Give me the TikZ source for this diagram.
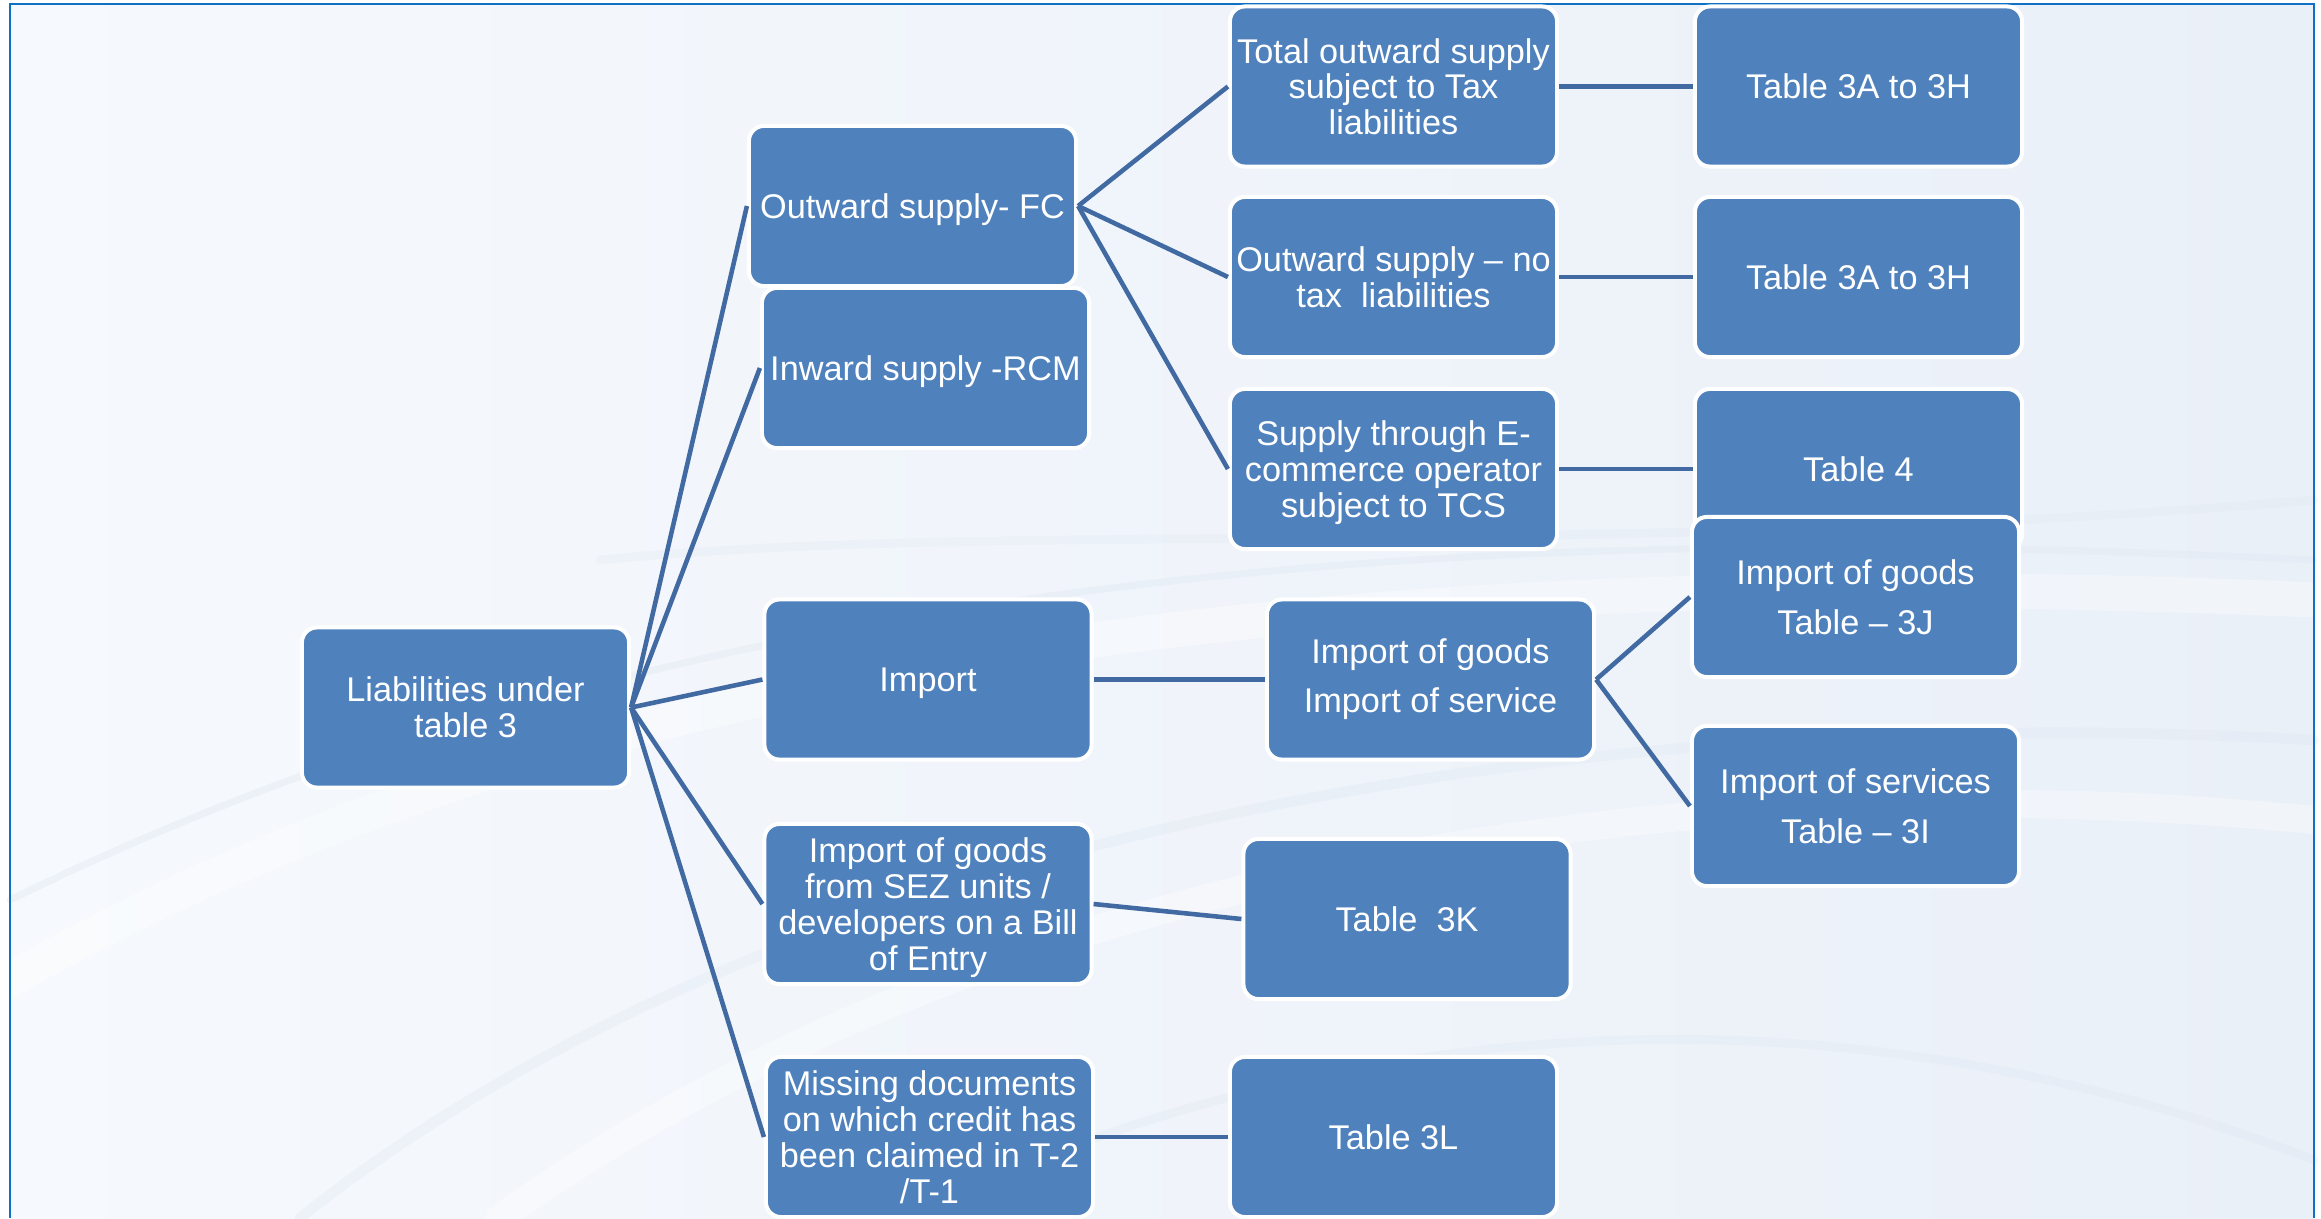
\documentclass[tikz,border=0pt]{standalone}
\usepackage{fontspec}
\setmainfont{Liberation Sans}
\definecolor{boxblue}{RGB}{79,129,189}
\definecolor{linkblue}{RGB}{66,106,162}
\definecolor{framebl}{RGB}{16,112,196}
\definecolor{bgleft}{RGB}{246,249,253}
\definecolor{bgright}{RGB}{234,240,248}
\definecolor{swoosh}{RGB}{222,230,240}
\begin{document}
\begin{tikzpicture}[x=0.01cm,y=-0.01cm,
  box/.style={rectangle, rounded corners=0.15cm, fill=boxblue, draw=white,
    line width=0.04cm, minimum width=3.27cm, minimum height=1.6cm,
    inner sep=0pt, align=center, text=white, text depth=0pt,
    font=\fontsize{9.75}{10.2}\selectfont},
  widebox/.style={box, font=\fontsize{9.75}{14}\selectfont},
  link/.style={draw=linkblue, line width=1.3pt}]
\useasboundingbox (0,0) rectangle (2321,1218);
% background
\shade[left color=bgleft, right color=bgright] (10,4) rectangle (2314,1218);
\begin{scope}[line cap=round]
  \draw[white, line width=10pt, opacity=0.35] (10,980) .. controls (600,640) and (1400,560) .. (2314,600);
  \draw[swoosh, line width=2pt, opacity=0.35] (10,900) .. controls (700,560) and (1500,520) .. (2314,560);
  \draw[swoosh, line width=3pt, opacity=0.3] (300,1218) .. controls (800,820) and (1600,700) .. (2314,740);
  \draw[white, line width=8pt, opacity=0.35] (500,1218) .. controls (1000,860) and (1700,760) .. (2314,820);
  \draw[swoosh, line width=2.5pt, opacity=0.3] (900,1218) .. controls (1400,980) and (1900,1000) .. (2314,1160);
  \draw[swoosh, line width=2.5pt, opacity=0.25] (600,560) .. controls (1000,520) and (1600,560) .. (2314,500);
\end{scope}
\draw[framebl, line width=0.7pt] (10,1218) -- (10,4) -- (2314,4) -- (2314,1218);

% nodes
\node[box] (root) at (465.5,707.5) {Liabilities under\\table 3};
\node[box] (ofc) at (912.5,206) {Outward supply- FC};
\node[box] (rcm) at (925.5,368) {Inward supply -RCM};
\node[box] (imp) at (928,679.5) {Import};
\node[box] (sez) at (928,904) {Import of goods\\from SEZ units /\\developers on a Bill\\of Entry};
\node[box] (miss) at (929.5,1137) {Missing documents\\on which credit has\\been claimed in T-2\\/T-1};
\node[box] (tot) at (1393.5,86.5) {Total outward supply\\subject to Tax\\liabilities};
\node[box] (notax) at (1393.5,277) {Outward supply – no\\tax\ \ liabilities};
\node[box] (ecom) at (1393.5,469) {Supply through E-\\commerce operator\\subject to TCS};
\node[box] (ta) at (1858.5,86.5) {Table 3A to 3H};
\node[box] (tb) at (1858.5,277) {Table 3A to 3H};
\node[box] (t4) at (1858.5,469) {Table 4};
\node[widebox, text depth=] (igs) at (1430.5,679.5) {Import of goods\\Import of service};
\node[widebox] (tj) at (1855.5,597) {Import of goods\\Table – 3J};
\node[widebox] (ti) at (1855.5,806) {Import of services\\Table – 3I};
\node[box] (tk) at (1407,919) {Table\ \ 3K};
\node[box] (tl) at (1393.5,1137) {Table 3L};

% connectors
\draw[link] (root.east) -- (ofc.west);
\draw[link] (root.east) -- (rcm.west);
\draw[link] (root.east) -- (imp.west);
\draw[link] (root.east) -- (sez.west);
\draw[link] (root.east) -- (miss.west);
\draw[link] (ofc.east) -- (tot.west);
\draw[link] (ofc.east) -- (notax.west);
\draw[link] (ofc.east) -- (ecom.west);
\draw[link] (tot.east) -- (ta.west);
\draw[link] (notax.east) -- (tb.west);
\draw[link] (ecom.east) -- (t4.west);
\draw[link] (imp.east) -- (igs.west);
\draw[link] (igs.east) -- (tj.west);
\draw[link] (igs.east) -- (ti.west);
\draw[link] (sez.east) -- (tk.west);
\draw[link] (miss.east) -- (tl.west);
\end{tikzpicture}
\end{document}
